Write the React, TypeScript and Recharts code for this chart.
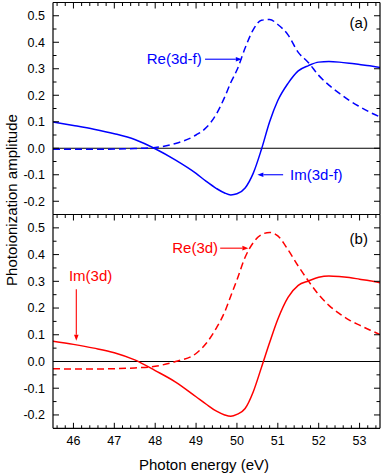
import {
  Line,
  LineChart,
  ReferenceDot,
  ReferenceLine,
  XAxis,
  YAxis,
} from "recharts";

const FONT = '"Liberation Sans", Arial, sans-serif';
const BLUE = "#0000ff";
const RED = "#ff0000";

// photon energy (eV)
const energy = [
  45.5, 46.0, 46.5, 47.0, 47.5, 48.0, 48.5, 49.0, 49.25, 49.5, 49.7, 49.85, 50.0, 50.2,
  50.4, 50.6, 50.8, 51.0, 51.25, 51.5, 51.75, 52.0, 52.25, 52.5, 52.75, 53.0, 53.25, 53.5,
];

// panel (a)
const re3df = [
  -0.004, -0.004, -0.004, -0.003, -0.001, 0.003, 0.018, 0.05, 0.078, 0.13, 0.193, 0.248,
  0.295, 0.378, 0.448, 0.483, 0.486, 0.467, 0.428, 0.362, 0.323, 0.275, 0.238, 0.208,
  0.18, 0.157, 0.136, 0.118,
];
const im3df = [
  0.099, 0.086, 0.072, 0.055, 0.033, -0.002, -0.045, -0.095, -0.125, -0.152, -0.169,
  -0.176, -0.172, -0.15, -0.094, -0.004, 0.1, 0.18, 0.245, 0.292, 0.312, 0.325, 0.327,
  0.325, 0.321, 0.316, 0.311, 0.305,
];

// panel (b)
const re3d = [
  -0.027, -0.028, -0.028, -0.027, -0.024, -0.018, 0.0, 0.03, 0.068, 0.126, 0.185, 0.245,
  0.305, 0.39, 0.445, 0.475, 0.483, 0.47, 0.418, 0.357, 0.301, 0.25, 0.21, 0.18, 0.155,
  0.136, 0.118, 0.101,
];
const im3d = [
  0.076, 0.064, 0.05, 0.033, 0.006, -0.034, -0.077, -0.132, -0.16, -0.186, -0.2, -0.205,
  -0.198, -0.176, -0.113, -0.022, 0.071, 0.158, 0.24, 0.285, 0.301, 0.315, 0.32, 0.318,
  0.314, 0.308, 0.302, 0.295,
];

const xMajor = [46, 47, 48, 49, 50, 51, 52, 53];
const xTicks = [
  45.6, 45.8, 46, 46.2, 46.4, 46.6, 46.8, 47, 47.2, 47.4, 47.6, 47.8, 48, 48.2, 48.4,
  48.6, 48.8, 49, 49.2, 49.4, 49.6, 49.8, 50, 50.2, 50.4, 50.6, 50.8, 51, 51.2, 51.4,
  51.6, 51.8, 52, 52.2, 52.4, 52.6, 52.8, 53, 53.2, 53.4,
];
const yMajor = [-0.2, -0.1, 0.0, 0.1, 0.2, 0.3, 0.4, 0.5];
const yTicks = [
  -0.2, -0.15, -0.1, -0.05, 0.0, 0.05, 0.1, 0.15, 0.2, 0.25, 0.3, 0.35, 0.4, 0.45, 0.5,
];

const X_DOMAIN: [number, number] = [45.5, 53.5];
const Y_DOMAIN: [number, number] = [-0.25, 0.55];

const dataA = energy.map((e, i) => ({ e, re: re3df[i], im: im3df[i] }));
const dataB = energy.map((e, i) => ({ e, re: re3d[i], im: im3d[i] }));

const isMajor = (v: number, list: number[]) => list.some((m) => Math.abs(m - v) < 1e-6);

function BottomTick(props: any) {
  const { x, y, payload } = props;
  const major = isMajor(payload.value, xMajor);
  return (
    <g>
      <path d={`M${x},${y}V${y - (major ? 5.5 : 3)}`} stroke="#000" strokeWidth={1} fill="none" />
      {major && (
        <text x={x} y={y + 12.5} dy="0.35em" textAnchor="middle" fontSize={12.5} fontFamily={FONT} fill="#000">
          {payload.value}
        </text>
      )}
    </g>
  );
}

function TopTick(props: any) {
  const { x, y, payload } = props;
  const major = isMajor(payload.value, xMajor);
  return <path d={`M${x},${y}V${y + (major ? 6 : 3.5)}`} stroke="#000" strokeWidth={1} fill="none" />;
}

function LeftTick(props: any) {
  const { x, y, payload } = props;
  const major = isMajor(payload.value, yMajor);
  return (
    <g>
      <path d={`M${x},${y}H${x + (major ? 6 : 3.5)}`} stroke="#000" strokeWidth={1} fill="none" />
      {major && (
        <text x={x - 8} y={y} dy="0.35em" textAnchor="end" fontSize={12.5} fontFamily={FONT} fill="#000">
          {payload.value.toFixed(1)}
        </text>
      )}
    </g>
  );
}

function RightTick(props: any) {
  const { x, y, payload } = props;
  const major = isMajor(payload.value, yMajor);
  return <path d={`M${x},${y}H${x - (major ? 6 : 3.5)}`} stroke="#000" strokeWidth={1} fill="none" />;
}

function arrow(color: string) {
  return (p: any) => {
    const { x1, y1, x2, y2 } = p;
    const dx = x2 - x1;
    const dy = y2 - y1;
    const len = Math.hypot(dx, dy) || 1;
    const ux = dx / len;
    const uy = dy / len;
    const hl = 6;
    const hw = 2.3;
    const bx = x2 - ux * hl;
    const by = y2 - uy * hl;
    return (
      <g>
        <line x1={x1} y1={y1} x2={bx} y2={by} stroke={color} strokeWidth={1.1} />
        <polygon
          points={`${x2},${y2} ${bx - uy * hw},${by + ux * hw} ${bx + uy * hw},${by - ux * hw}`}
          fill={color}
        />
      </g>
    );
  };
}

function textAt(value: string, color: string, anchor: "start" | "middle" | "end") {
  return (p: any) => (
    <text x={p.cx} y={p.cy} dy="0.35em" textAnchor={anchor} fontSize={15} fontFamily={FONT} fill={color}>
      {value}
    </text>
  );
}

const axisLine = { stroke: "#000", strokeWidth: 1.2 };

// zero-size axes are not drawn by recharts, so the top/right ones get 1px
function Panel({ data, color, height, margin, bottomHeight, bottomTicks, children }: any) {
  return (
    <LineChart width={382} height={height} data={data} margin={margin}>
      <XAxis
        dataKey="e"
        type="number"
        domain={X_DOMAIN}
        allowDataOverflow
        ticks={xTicks}
        interval={0}
        tickSize={0}
        tickMargin={0}
        height={bottomHeight}
        tick={bottomTicks ? <BottomTick /> : false}
        axisLine={axisLine}
        tickLine={false}
      />
      <XAxis
        xAxisId="top"
        orientation="top"
        dataKey="e"
        type="number"
        domain={X_DOMAIN}
        allowDataOverflow
        ticks={xTicks}
        interval={0}
        tickSize={0}
        tickMargin={0}
        height={1}
        tick={<TopTick />}
        axisLine={axisLine}
        tickLine={false}
      />
      <YAxis
        type="number"
        domain={Y_DOMAIN}
        allowDataOverflow
        ticks={yTicks}
        interval={0}
        tickSize={0}
        tickMargin={0}
        width={53}
        tick={<LeftTick />}
        axisLine={axisLine}
        tickLine={false}
      />
      <YAxis
        yAxisId="right"
        orientation="right"
        type="number"
        domain={Y_DOMAIN}
        allowDataOverflow
        ticks={yTicks}
        interval={0}
        tickSize={0}
        tickMargin={0}
        width={1}
        tick={<RightTick />}
        axisLine={axisLine}
        tickLine={false}
      />
      <ReferenceLine y={0} stroke="#000" strokeWidth={1.2} />
      <Line
        dataKey="re"
        type="monotone"
        stroke={color}
        strokeWidth={1.5}
        strokeDasharray="7 4"
        dot={false}
        isAnimationActive={false}
      />
      <Line
        dataKey="im"
        xAxisId="top"
        yAxisId="right"
        type="monotone"
        stroke={color}
        strokeWidth={1.5}
        dot={false}
        isAnimationActive={false}
      />
      {children}
    </LineChart>
  );
}

export default function App() {
  return (
    <div style={{ position: "absolute", left: 0, top: 0, width: 382, height: 474, background: "#fff" }}>
      <div style={{ position: "absolute", left: 0, top: 0 }}>
        <Panel
          data={dataA}
          color={BLUE}
          height={216}
          margin={{ top: 1.5, right: 1, bottom: 0.5, left: 0 }}
          bottomHeight={1}
          bottomTicks={false}
        >
          <ReferenceLine segment={[{ x: 49.22, y: 0.336 }, { x: 50.12, y: 0.336 }]} shape={arrow(BLUE)} />
          <ReferenceDot x={49.14} y={0.336} r={0} shape={textAt("Re(3d-f)", BLUE, "end")} />
          <ReferenceLine segment={[{ x: 51.13, y: -0.1 }, { x: 50.5, y: -0.1 }]} shape={arrow(BLUE)} />
          <ReferenceDot x={51.3} y={-0.1} r={0} shape={textAt("Im(3d-f)", BLUE, "start")} />
          <ReferenceDot x={52.98} y={0.474} r={0} shape={textAt("(a)", "#000", "middle")} />
        </Panel>
      </div>
      <div style={{ position: "absolute", left: 0, top: 212 }}>
        <Panel
          data={dataB}
          color={RED}
          height={262}
          margin={{ top: 1.5, right: 1, bottom: 0, left: 0 }}
          bottomHeight={45.7}
          bottomTicks={true}
        >
          <ReferenceLine segment={[{ x: 49.59, y: 0.424 }, { x: 50.28, y: 0.424 }]} shape={arrow(RED)} />
          <ReferenceDot x={49.54} y={0.426} r={0} shape={textAt("Re(3d)", RED, "end")} />
          <ReferenceLine segment={[{ x: 46.07, y: 0.27 }, { x: 46.07, y: 0.078 }]} shape={arrow(RED)} />
          <ReferenceDot x={46.42} y={0.32} r={0} shape={textAt("Im(3d)", RED, "middle")} />
          <ReferenceDot x={52.98} y={0.458} r={0} shape={textAt("(b)", "#000", "middle")} />
        </Panel>
      </div>
      <svg
        width={382}
        height={474}
        style={{ position: "absolute", left: 0, top: 0, pointerEvents: "none" }}
      >
        <text
          x={12}
          y={200}
          transform="rotate(-90 12 200)"
          textAnchor="middle"
          dy="0.35em"
          fontSize={15}
          fontFamily={FONT}
          fill="#000"
        >
          Photoionization amplitude
        </text>
        <text x={204} y={465} textAnchor="middle" dy="0.35em" fontSize={15} fontFamily={FONT} fill="#000">
          Photon energy (eV)
        </text>
      </svg>
    </div>
  );
}
